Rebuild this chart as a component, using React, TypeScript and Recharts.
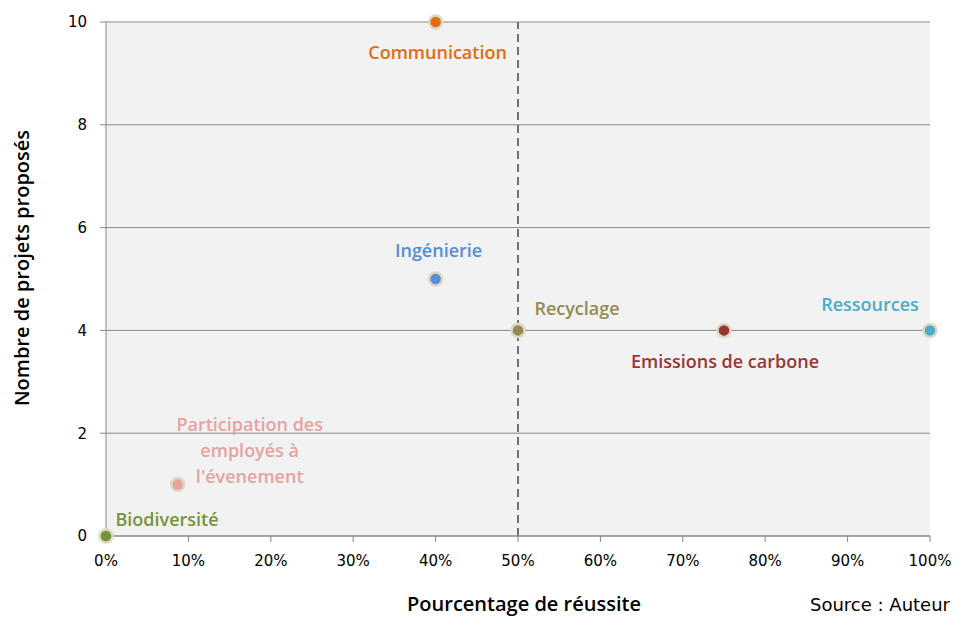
import React from 'react';
import {
  ScatterChart,
  Scatter,
  XAxis,
  YAxis,
  CartesianGrid,
  ReferenceLine,
} from 'recharts';

// ---- data ----
const categories = [
  'Communication',
  'Ingénierie',
  'Recyclage',
  'Emissions de carbone',
  'Ressources',
  "Participation des employés à l'évenement",
  'Biodiversité',
];
const successRates = [0.4, 0.4, 0.5, 0.75, 1.0, 0.087, 0.0];
const projectCounts = [10, 5, 4, 4, 4, 1, 0];
const xTicks = [0, 0.1, 0.2, 0.3, 0.4, 0.5, 0.6, 0.7, 0.8, 0.9, 1.0];
const yTicks = [0, 2, 4, 6, 8, 10];
const threshold = 0.5;

// ---- styles (kept apart from data) ----
const pointColors = ['#E46C0A', '#558ED5', '#948A54', '#953735', '#4BACC6', '#E6A3A1', '#77933C'];
const labelLines: string[][] = [
  ['Communication'],
  ['Ingénierie'],
  ['Recyclage'],
  ['Emissions de carbone'],
  ['Ressources'],
  ['Participation des', 'employés à', "l'évenement"],
  ['Biodiversité'],
];
// label offsets relative to each point (dx of text center, dy of first line center)
const labelOffsets: [number, number][] = [
  [2, 30],
  [3, -29],
  [59, -22],
  [1, 31],
  [-60, -26],
  [72, -61],
  [61, -17],
];

const data = categories.map((name, i) => ({
  name,
  x: successRates[i],
  y: projectCounts[i],
  idx: i,
}));

const labelFont = '"Open Sans", sans-serif';

const PointShape = (props: any) => {
  const { cx, cy, payload } = props;
  if (cx == null || cy == null) return null;
  const i = payload.idx;
  const color = pointColors[i];
  const [dx, dy] = labelOffsets[i];
  const lines = labelLines[i];
  return (
    <g>
      <circle cx={cx} cy={cy} r={6.5} fill={color} stroke="#ddd8c2" strokeWidth={2.5} />
      <text
        x={cx + dx}
        y={cy + dy}
        fill={color}
        textAnchor="middle"
        dominantBaseline="central"
        fontFamily={labelFont}
        fontWeight={600}
        fontSize={18}
      >
        {lines.map((l, k) => (
          <tspan key={k} x={cx + dx} dy={k === 0 ? 0 : 26}>
            {l}
          </tspan>
        ))}
      </text>
    </g>
  );
};

export default function App() {
  return (
    <div style={{ position: 'absolute', left: 0, top: 0, width: 954, height: 617, background: '#fff' }}>
      <ScatterChart
        width={954}
        height={617}
        margin={{ top: 22, right: 24, bottom: 0, left: 0 }}
      >
        <CartesianGrid
          horizontal
          vertical={false}
          fill="#f2f2f2"
          stroke="#888888"
          strokeWidth={1}
        />
        <XAxis
          type="number"
          dataKey="x"
          domain={[0, 1]}
          ticks={xTicks}
          tickFormatter={(v: number) => `${Math.round(v * 100)}%`}
          axisLine={{ stroke: '#888888' }}
          tickLine={{ stroke: '#888888' }}
          tickSize={6}
          tickMargin={13}
          height={81}
          interval={0}
          tick={{ fill: '#000', fontFamily: '"DejaVu Sans", sans-serif', fontSize: 15 }}
        />
        <YAxis
          type="number"
          dataKey="y"
          domain={[0, 10]}
          ticks={yTicks}
          axisLine={{ stroke: '#888888' }}
          tickLine={{ stroke: '#888888' }}
          tickSize={6}
          tickMargin={13}
          width={106}
          interval={0}
          tick={{ fill: '#000', fontFamily: '"DejaVu Sans", sans-serif', fontSize: 15 }}
        />
        <ReferenceLine
          x={threshold}
          stroke="#707070"
          strokeWidth={2}
          strokeDasharray="8 5"
        />
        <Scatter data={data} isAnimationActive={false} shape={PointShape} />
      </ScatterChart>
      <div
        style={{
          position: 'absolute',
          left: 404,
          top: 592,
          width: 240,
          textAlign: 'center',
          fontFamily: labelFont,
          fontWeight: 600,
          fontSize: 20,
          color: '#000',
          whiteSpace: 'nowrap',
          lineHeight: '24px',
        }}
      >
        Pourcentage de réussite
      </div>
      <div
        style={{
          position: 'absolute',
          left: 22 - 150,
          top: 268 - 13,
          width: 300,
          textAlign: 'center',
          transform: 'rotate(-90deg)',
          fontFamily: labelFont,
          fontWeight: 600,
          fontSize: 20,
          color: '#000',
          whiteSpace: 'nowrap',
          lineHeight: '26px',
        }}
      >
        Nombre de projets proposés
      </div>
      <div
        style={{
          position: 'absolute',
          right: 4,
          top: 593,
          fontFamily: '"DejaVu Sans", sans-serif',
          fontSize: 18,
          color: '#000',
          whiteSpace: 'nowrap',
          lineHeight: '24px',
        }}
      >
        Source : Auteur
      </div>
    </div>
  );
}
